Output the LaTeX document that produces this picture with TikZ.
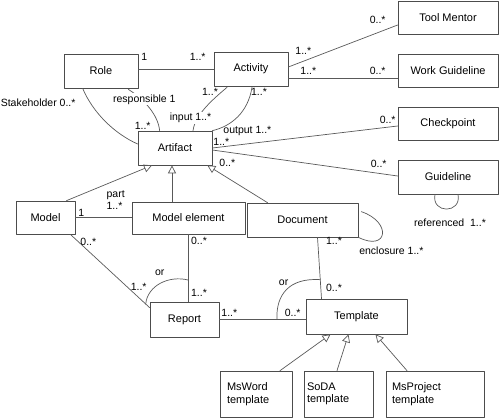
\documentclass[tikz,border=0pt]{standalone}
\usepackage{fontspec}
\setmainfont{Liberation Sans}
\usetikzlibrary{arrows.meta,calc}

\begin{document}
\begin{tikzpicture}[line cap=round,line join=round,x=1pt,y=-1pt,
  cls/.style={draw=black!70,line width=0.7pt,fill=white,inner sep=2pt,font=\fontsize{11}{13}\selectfont},
  sub/.style={cls,minimum height=46pt,align=left,font=\fontsize{11}{12.5}\selectfont},
  assoc/.style={draw=black!65,line width=0.7pt},
  isa/.style={assoc,-{Triangle[open,length=8pt,width=8pt]}},
  lbl/.style={font=\fontsize{10.5}{12}\selectfont,inner sep=1pt},
  lblw/.style={lbl,fill=white}]

\useasboundingbox (0,0) rectangle (500,418);

\node[cls,minimum width=74pt,minimum height=34pt] (Role) at (101,71) {Role};
\node[cls,minimum width=74pt,minimum height=34pt] (Activity) at (251,69) {Activity};
\node[cls,minimum width=74pt,minimum height=34pt] (Artifact) at (175,148) {Artifact};
\node[cls,minimum width=100pt,minimum height=33pt] (ToolMentor) at (448,18) {Tool Mentor};
\node[cls,minimum width=100pt,minimum height=33pt] (WorkGuideline) at (448,70.5) {Work Guideline};
\node[cls,minimum width=100pt,minimum height=33pt] (Checkpoint) at (448,123.5) {Checkpoint};
\node[cls,minimum width=100pt,minimum height=34pt] (Guideline) at (448,177) {Guideline};
\node[cls,minimum width=59pt,minimum height=33pt] (Model) at (45.5,217.5) {Model};
\node[cls,minimum width=113pt,minimum height=32pt] (ModelElement) at (188.5,218) {Model element};
\node[cls,minimum width=111pt,minimum height=34pt] (Document) at (302.5,220) {Document};
\node[cls,minimum width=69pt,minimum height=35pt] (Report) at (184.5,319.5) {Report};
\node[cls,minimum width=101pt,minimum height=35pt] (Template) at (356.5,316.5) {Template};
\node[sub,inner xsep=7pt,text width=58pt] (MsWord) at (256,394) {MsWord\\template};
\node[sub,inner xsep=3pt,text width=63pt] (SoDA) at (338.5,394) {SoDA\\template};
\node[sub,inner xsep=6pt,text width=86pt] (MsProject) at (435,394) {MsProject\\template};

\draw[assoc] ($(Role.east)+(0,-2)$) -- ($(Activity.west)+(0,0)$)
  node[lbl,pos=0,xshift=6pt,yshift=12pt] {1}
  node[lbl,pos=1,xshift=-16pt,yshift=12pt] {1..*};
\draw[assoc] ($(Activity.east)+(0,-2)$) -- ($(ToolMentor.west)+(0,7)$)
  node[lbl,pos=0,xshift=15pt,yshift=16pt] {1..*}
  node[lbl,pos=1,xshift=-20pt,yshift=5pt] {0..*};
\draw[assoc] ($(Activity.east)+(0,9)$) -- ($(WorkGuideline.west)+(0,7.5)$)
  node[lbl,pos=0,xshift=20pt,yshift=7pt] {1..*}
  node[lbl,pos=1,xshift=-20pt,yshift=7pt] {0..*};

\draw[assoc] ($(Role.south west)+(19,0)$) .. controls (93,113) and (115,134) .. ($(Artifact.west)+(0,-4)$)
  node[lbl,pos=0,xshift=-44.5pt,yshift=-14pt] {Stakeholder 0..*}
  node[lbl,pos=1,xshift=5pt,yshift=18pt] {1..*};
\draw[assoc] ($(Role.south east)+(-10,1)$) .. controls (145,100) and (158,115) .. ($(Artifact.north west)+(22,0)$)
  node[lblw,pos=0,xshift=16pt,yshift=-10pt] {responsible 1};
\draw[assoc] ($(Activity.south)+(-24,1)$) .. controls (212,100) and (195,115) .. ($(Artifact.north)+(18,0)$)
  node[lbl,pos=0,xshift=-17pt,yshift=-5pt] {1..*}
  node[lblw,pos=1,xshift=-2.5pt,yshift=13pt] {input 1..*};
\draw[assoc] ($(Activity.south)+(1,1)$) .. controls (248,112) and (232,126) .. (Artifact.north east)
  node[lbl,pos=0,xshift=7pt,yshift=-5pt] {1..*}
  node[lbl,pos=1,xshift=35pt,yshift=0pt] {output 1..*};

\draw[assoc] (Artifact.east) -- ($(Checkpoint.west)+(0,2.5)$)
  node[lbl,pos=0,xshift=9pt,yshift=6.5pt] {1..*}
  node[lbl,pos=1,xshift=-10pt,yshift=6pt] {0..*};
\draw[assoc] ($(Artifact.east)+(0,2)$) -- ($(Guideline.west)+(0,-1)$)
  node[lbl,pos=0,xshift=15pt,yshift=-13pt] {0..*}
  node[lbl,pos=1,xshift=-19pt,yshift=12pt] {0..*};
\draw[assoc] ($(Guideline.south)+(-13,0)$) .. controls (431,214) and (462,214) .. ($(Guideline.south)+(10,0)$)
  node[lbl,pos=0.5,xshift=3.5pt,yshift=-14pt] {referenced\ \ 1..*};
\draw[assoc] ($(Document.north east)+(3,9)$) .. controls (392,222) and (388,252) .. (Document.south east)
  node[lbl,pos=1,xshift=33pt,yshift=-13pt] {enclosure 1..*};

\draw[isa] ($(Model.north)+(21,0)$) -- ($(Artifact.south)+(-23,0)$);
\draw[isa] ($(ModelElement.north)+(-16.5,0)$) -- ($(Artifact.south)+(-3,0)$);
\draw[isa] ($(Document.north)+(-35,0)$) -- ($(Artifact.south east)+(-5,0)$);

\draw[assoc] (Model.east) -- (Model.east -| ModelElement.west)
  node[lbl,pos=0,xshift=6pt,yshift=5pt] {1}
  node[lbl,pos=1,xshift=-16pt,yshift=17pt,align=left] {part\\1..*};
\draw[assoc] ($(Model.south east)+(-5,0)$) -- ($(Report.north west)+(0,6)$) coordinate[pos=0.95] (orA)
  node[lbl,pos=0,xshift=18pt,yshift=-8pt] {0..*}
  node[lbl,pos=1,xshift=-11pt,yshift=21pt] {1..*};
\draw[assoc] (ModelElement.south) -- (ModelElement.south |- Report.north) coordinate[pos=0.68] (orB)
  node[lbl,pos=0,xshift=10.5pt,yshift=-7pt] {0..*}
  node[lbl,pos=1,xshift=10.5pt,yshift=9pt] {1..*};
\draw[assoc] (orA) .. controls +(2,-19) and +(-19,-5) .. (orB)
  node[lbl,pos=0.5,xshift=-1pt,yshift=10pt] {or};

\draw[assoc] (Report.east) -- (Report.east -| Template.west) coordinate[pos=0.667] (orC)
  node[lbl,pos=0,xshift=10pt,yshift=7pt] {1..*}
  node[lbl,pos=1,xshift=-13pt,yshift=7pt] {0..*};
\draw[assoc] ($(Document.south)+(15,0)$) -- ($(Template.north)+(-35,0)$) coordinate[pos=0.69] (orD)
  node[lbl,pos=0,xshift=16.5pt,yshift=-4pt] {1..*}
  node[lbl,pos=1,xshift=12.5pt,yshift=11pt] {0..*};
\draw[assoc] (orC) .. controls +(-1,-25) and +(-31,-2) .. (orD)
  node[lbl,pos=0.5,xshift=-3pt,yshift=7pt] {or};

\draw[isa] ($(MsWord.north)+(24,0)$) -- ($(Template.south)+(-26,0)$);
\draw[isa] ($(SoDA.north)+(-1.5,0)$) -- ($(Template.south)+(-8,0)$);
\draw[isa] ($(MsProject.north)+(-28,0)$) -- ($(Template.south)+(19,0)$);
\end{tikzpicture}
\end{document}
